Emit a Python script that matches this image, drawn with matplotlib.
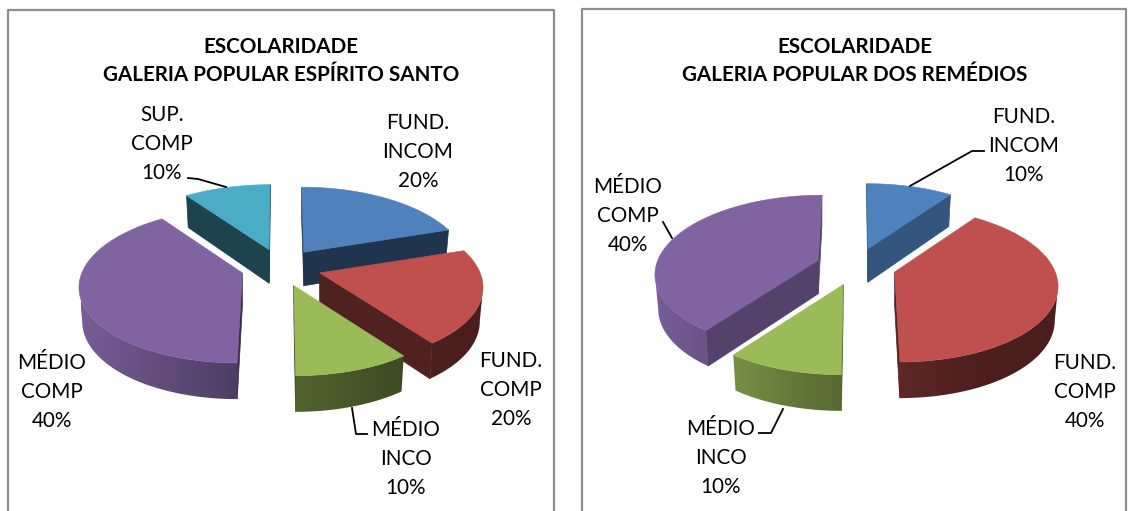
import numpy as np
import matplotlib
matplotlib.use('Agg')
import matplotlib.pyplot as plt
from matplotlib.patches import Polygon

plt.rcParams['font.family'] = ['Lato', 'DejaVu Sans']

# data
left_title = 'ESCOLARIDADE\nGALERIA POPULAR ESPÍRITO SANTO'
left_names = ['FUND.\nINCOM', 'FUND.\nCOMP', 'MÉDIO\nINCO', 'MÉDIO\nCOMP', 'SUP.\nCOMP']
left_values = [20, 20, 10, 40, 10]
right_title = 'ESCOLARIDADE\nGALERIA POPULAR DOS REMÉDIOS'
right_names = ['FUND.\nINCOM', 'FUND.\nCOMP', 'MÉDIO\nINCO', 'MÉDIO\nCOMP']
right_values = [10, 40, 10, 40]

# styles
left_colors = ['#4F81BD', '#C0504D', '#9BBB59', '#8064A2', '#4BACC6']
right_colors = ['#4F81BD', '#C0504D', '#9BBB59', '#8064A2']
left_walls = [0.41, 0.41, 0.4, 0.45, 0.39]
right_walls = [0.66, 0.41, 0.5, 0.66]
left_label_pos = [(418, 152), (511, 390), (406, 459), (52, 392), (162, 144)]
right_label_pos = [(1024, 146), (1085, 392), (721, 458), (628, 216)]
left_leaders = [[(188, 178), (198, 179), (226, 187)], [(352, 408), (356, 434), (367, 434)]]
right_leaders = [[(910, 186), (972, 151), (984, 151)], [(663, 222), (672, 238)],
                 [(783, 409), (771, 433), (759, 433)]]

RX = 160.5
RY = 75.5
PERSP = 0.161
EXPLODE = 0.25


def project(x, y):
    w = 1 + PERSP * y
    return RX * x / w, -RY * y / w


def hex_shade(color, f):
    rgb = np.array(matplotlib.colors.to_rgb(color))
    return tuple(rgb * f)


def rim_shade(t):
    return np.interp(t, [0, 0.4, 0.8, 1], [0.93, 0.6, 0.4, 0.38])


def draw_pie(ax, center, values, colors, walls):
    total = sum(values)
    edges = np.cumsum([0] + list(values)) / total * 2 * np.pi
    slices = []
    for i in range(len(values)):
        a0, a1 = edges[i], edges[i + 1]
        mid = (a0 + a1) / 2
        ox, oy = project(EXPLODE * np.sin(mid), EXPLODE * np.cos(mid))
        tip = np.array([center[0] + ox, center[1] + oy])
        ang = np.linspace(a0, a1, max(int(np.degrees(a1 - a0) * 2), 4))
        rim = []
        for a in ang:
            vx, vy = project(np.sin(a), np.cos(a))
            # near points spread away from the middle of the pie
            spread = ox * (1 / (1 + PERSP * np.cos(a)) - 1) * 0.7
            rim.append(tip + (vx + spread, vy))
        top = np.array([tip] + rim)
        slices.append((top[:, 1].mean(), i, tip, top))

    x_min = center[0] - RX - 40
    x_max = center[0] + RX + 40
    z = 2
    for _, i, tip, top in sorted(slices, key=lambda s: s[0]):
        c = colors[i]
        mid_pt = top.mean(axis=0)

        def lower(p):
            # bottom of the wall, perspective narrows it a little
            d = p - tip
            return tip + (d[0] * 0.98, d[1] * 1.03 + 33.5)

        n = len(top)
        rim_up = []
        rim_low = []
        for j in range(n):
            p, q = top[j], top[(j + 1) % n]
            m = (p + q) / 2 - mid_pt
            nrm = np.array([-(q - p)[1], (q - p)[0]])
            if nrm @ m < 0:
                nrm = -nrm
            if nrm[1] <= 0:
                continue
            if j == 0 or j == n - 1:
                quad = np.array([p, q, lower(q), lower(p)])
                ax.fill(quad[:, 0], quad[:, 1], color=hex_shade(c, walls[i]), lw=0.5, zorder=z)
            else:
                rim_up.append(p)
                rim_up.append(q)
                rim_low.append(lower(p))
                rim_low.append(lower(q))
        if rim_up:
            # outer wall, shaded from left to right across the whole pie
            xs = np.linspace(0, 1, 256)
            grad = np.array([[hex_shade(c, rim_shade(t)) for t in xs]])
            outline = np.array(rim_up + rim_low[::-1])
            patch = Polygon(outline, closed=True, transform=ax.transData, fc='none', ec='none')
            ax.add_patch(patch)
            im = ax.imshow(grad, extent=(x_min, x_max, 511, 0), aspect='auto', zorder=z,
                           interpolation='bilinear')
            im.set_clip_path(patch)
        ax.fill(top[:, 0], top[:, 1], color=c, lw=0.4, zorder=z + 0.5)
        z += 1


fig = plt.figure(figsize=(11.28, 5.11), dpi=100)
ax = fig.add_axes([0, 0, 1, 1])

# chart frames
for x0, x1, y0 in [(7.5, 554, 10.5), (582, 1126, 9)]:
    ax.plot([x0, x0, x1, x1], [511, y0, y0, 511], color='#8E8E8E', lw=1.6)

draw_pie(ax, (281, 267), left_values, left_colors, left_walls)
draw_pie(ax, (856, 266), right_values, right_colors, right_walls)

for title, x in [(left_title, 281), (right_title, 855)]:
    ax.text(x, 61, title, ha='center', va='center', fontsize=14.9, fontweight='bold',
            color='black', linespacing=1.5, zorder=20)

for names, values, pos in [(left_names, left_values, left_label_pos),
                           (right_names, right_values, right_label_pos)]:
    for name, v, (x, y) in zip(names, values, pos):
        ax.text(x, y, f'{name}\n{v}%', ha='center', va='center', fontsize=14.9,
                color='black', linespacing=1.56, zorder=20)

for line in left_leaders + right_leaders:
    pts = np.array(line)
    ax.plot(pts[:, 0], pts[:, 1], color='black', lw=1.3, zorder=20)

ax.set_xlim(0, 1128)
ax.set_ylim(511, 0)
ax.axis('off')

fig.savefig('out.png', dpi=100)
